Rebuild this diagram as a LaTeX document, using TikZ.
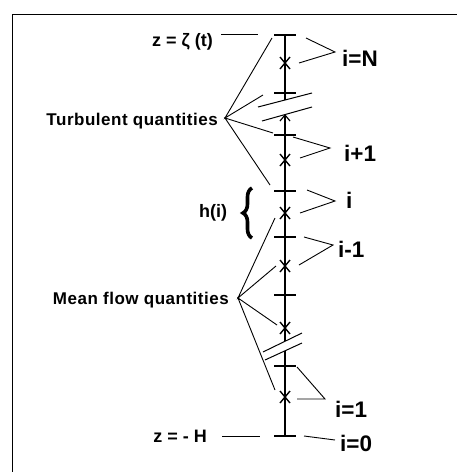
\documentclass[tikz,border=0pt]{standalone}
\usepackage{fontspec}
\setmainfont{Liberation Sans}
\usetikzlibrary{decorations.pathreplacing}
\begin{document}
\begin{tikzpicture}[x=1pt,y=-1pt,
  axisline/.style={line width=2pt},
  tickline/.style={line width=2pt},
  leader/.style={line width=0.9pt},
  crossmark/.style={line width=1.4pt},
  breakline/.style={line width=1pt},
  ilab/.style={font=\bfseries\fontsize{22.5}{24}\selectfont, inner sep=0pt, anchor=west},
  qlab/.style={font=\bfseries\fontsize{17}{20}\selectfont\addfontfeatures{LetterSpace=3}, inner sep=0pt, anchor=east},
  zlab/.style={font=\bfseries\fontsize{18}{20}\selectfont, inner sep=0pt, anchor=east},
]
\useasboundingbox (0,0) rectangle (457,472);
\draw[line width=1pt] (12,472) -- (12,14) -- (457,14);

% levels on the axis
\coordinate (t0) at (285,35);
\coordinate (c1) at (285,63);
\coordinate (t1) at (285,93);
\coordinate (b1a) at (285,100);
\coordinate (b1b) at (285,115);
\coordinate (t2) at (285,135);
\coordinate (c2) at (285,160);
\coordinate (t3) at (285,191);
\coordinate (c3) at (285,213);
\coordinate (t4) at (285,237);
\coordinate (c4) at (285,266);
\coordinate (t5) at (285,295);
\coordinate (c5) at (285,328);
\coordinate (b2a) at (285,341);
\coordinate (b2b) at (285,351);
\coordinate (t6) at (285,366);
\coordinate (c6) at (285,397);
\coordinate (t7) at (285,436);

% axis
\draw[axisline] (t0) -- (b1a);
\draw[axisline] (b1b) -- (b2a);
\draw[axisline] (b2b) -- (t7);
\draw[line width=1.2pt] ([shift={(-5,6)}]b1b) -- (b1b) -- ([shift={(5,6)}]b1b);

% ticks
\foreach \t in {t0,t1,t2,t3,t4,t5,t6,t7}
  \draw[tickline] ([xshift=-11pt]\t) -- ([xshift=11pt]\t);
% crosses
\foreach \c in {c1,c2,c3,c4,c5,c6}{
  \draw[crossmark] ([shift={(-5,-6)}]\c) -- ([shift={(5,6)}]\c);
  \draw[crossmark] ([shift={(-5,6)}]\c) -- ([shift={(5,-6)}]\c);
}

% break marks
\draw[breakline] (258,107) -- (312,93);
\draw[breakline] (262,121) -- (312,107);
\draw[breakline] (263,352) -- (302,333);
\draw[breakline] (265,360) -- (302,343);

% left labels
\node[zlab] (zt) at (213,42) {z = ζ (t)};
\draw[leader] (221,34) -- (258,34);
\node[zlab] (zh) at (207,436) {z = - H};
\draw[leader] (222,436) -- (260,436);

\node[qlab] (turb) at (218,121) {Turbulent quantities};
\coordinate (ta) at (225,118);
\draw[leader] (272,38) -- (ta) -- (263,95);
\draw[leader] (273,133) -- (ta) -- (270,185);

\node[qlab] (mean) at (229,300) {Mean flow quantities};
\coordinate (ma) at (238,298);
\draw[leader] (275,218) -- (ma) -- (276,266);
\draw[leader] (277,325) -- (ma) -- (275,390);

\node[font=\bfseries\fontsize{18}{20}\selectfont, inner sep=0pt] (hi) at (213,213) {h(i)};
\draw[line width=3.6pt, decorate, decoration={brace, amplitude=9pt}] (252,238) -- (252,188);

% right labels
\node[ilab] (iN) at (342,58) {i=N};
\draw[leader] (306,38) -- (335,52) -- (299,63);
\node[ilab] (ip1) at (344,153) {i+1};
\draw[leader] (293,137) -- (330,148) -- (300,158);
\node[ilab] (ii) at (346,200) {i};
\draw[leader] (307,190) -- (335,201) -- (300,213);
\node[ilab] (im1) at (338,249) {i-1};
\draw[leader] (304,237) -- (333,245) -- (299,265);
\node[ilab] (i1) at (335,409) {i=1};
\draw[leader] (297,367) -- (325,399) -- (297,399);
\node[ilab] (i0) at (340,443) {i=0};
\draw[leader] (304,436) -- (335,440);
\end{tikzpicture}
\end{document}
